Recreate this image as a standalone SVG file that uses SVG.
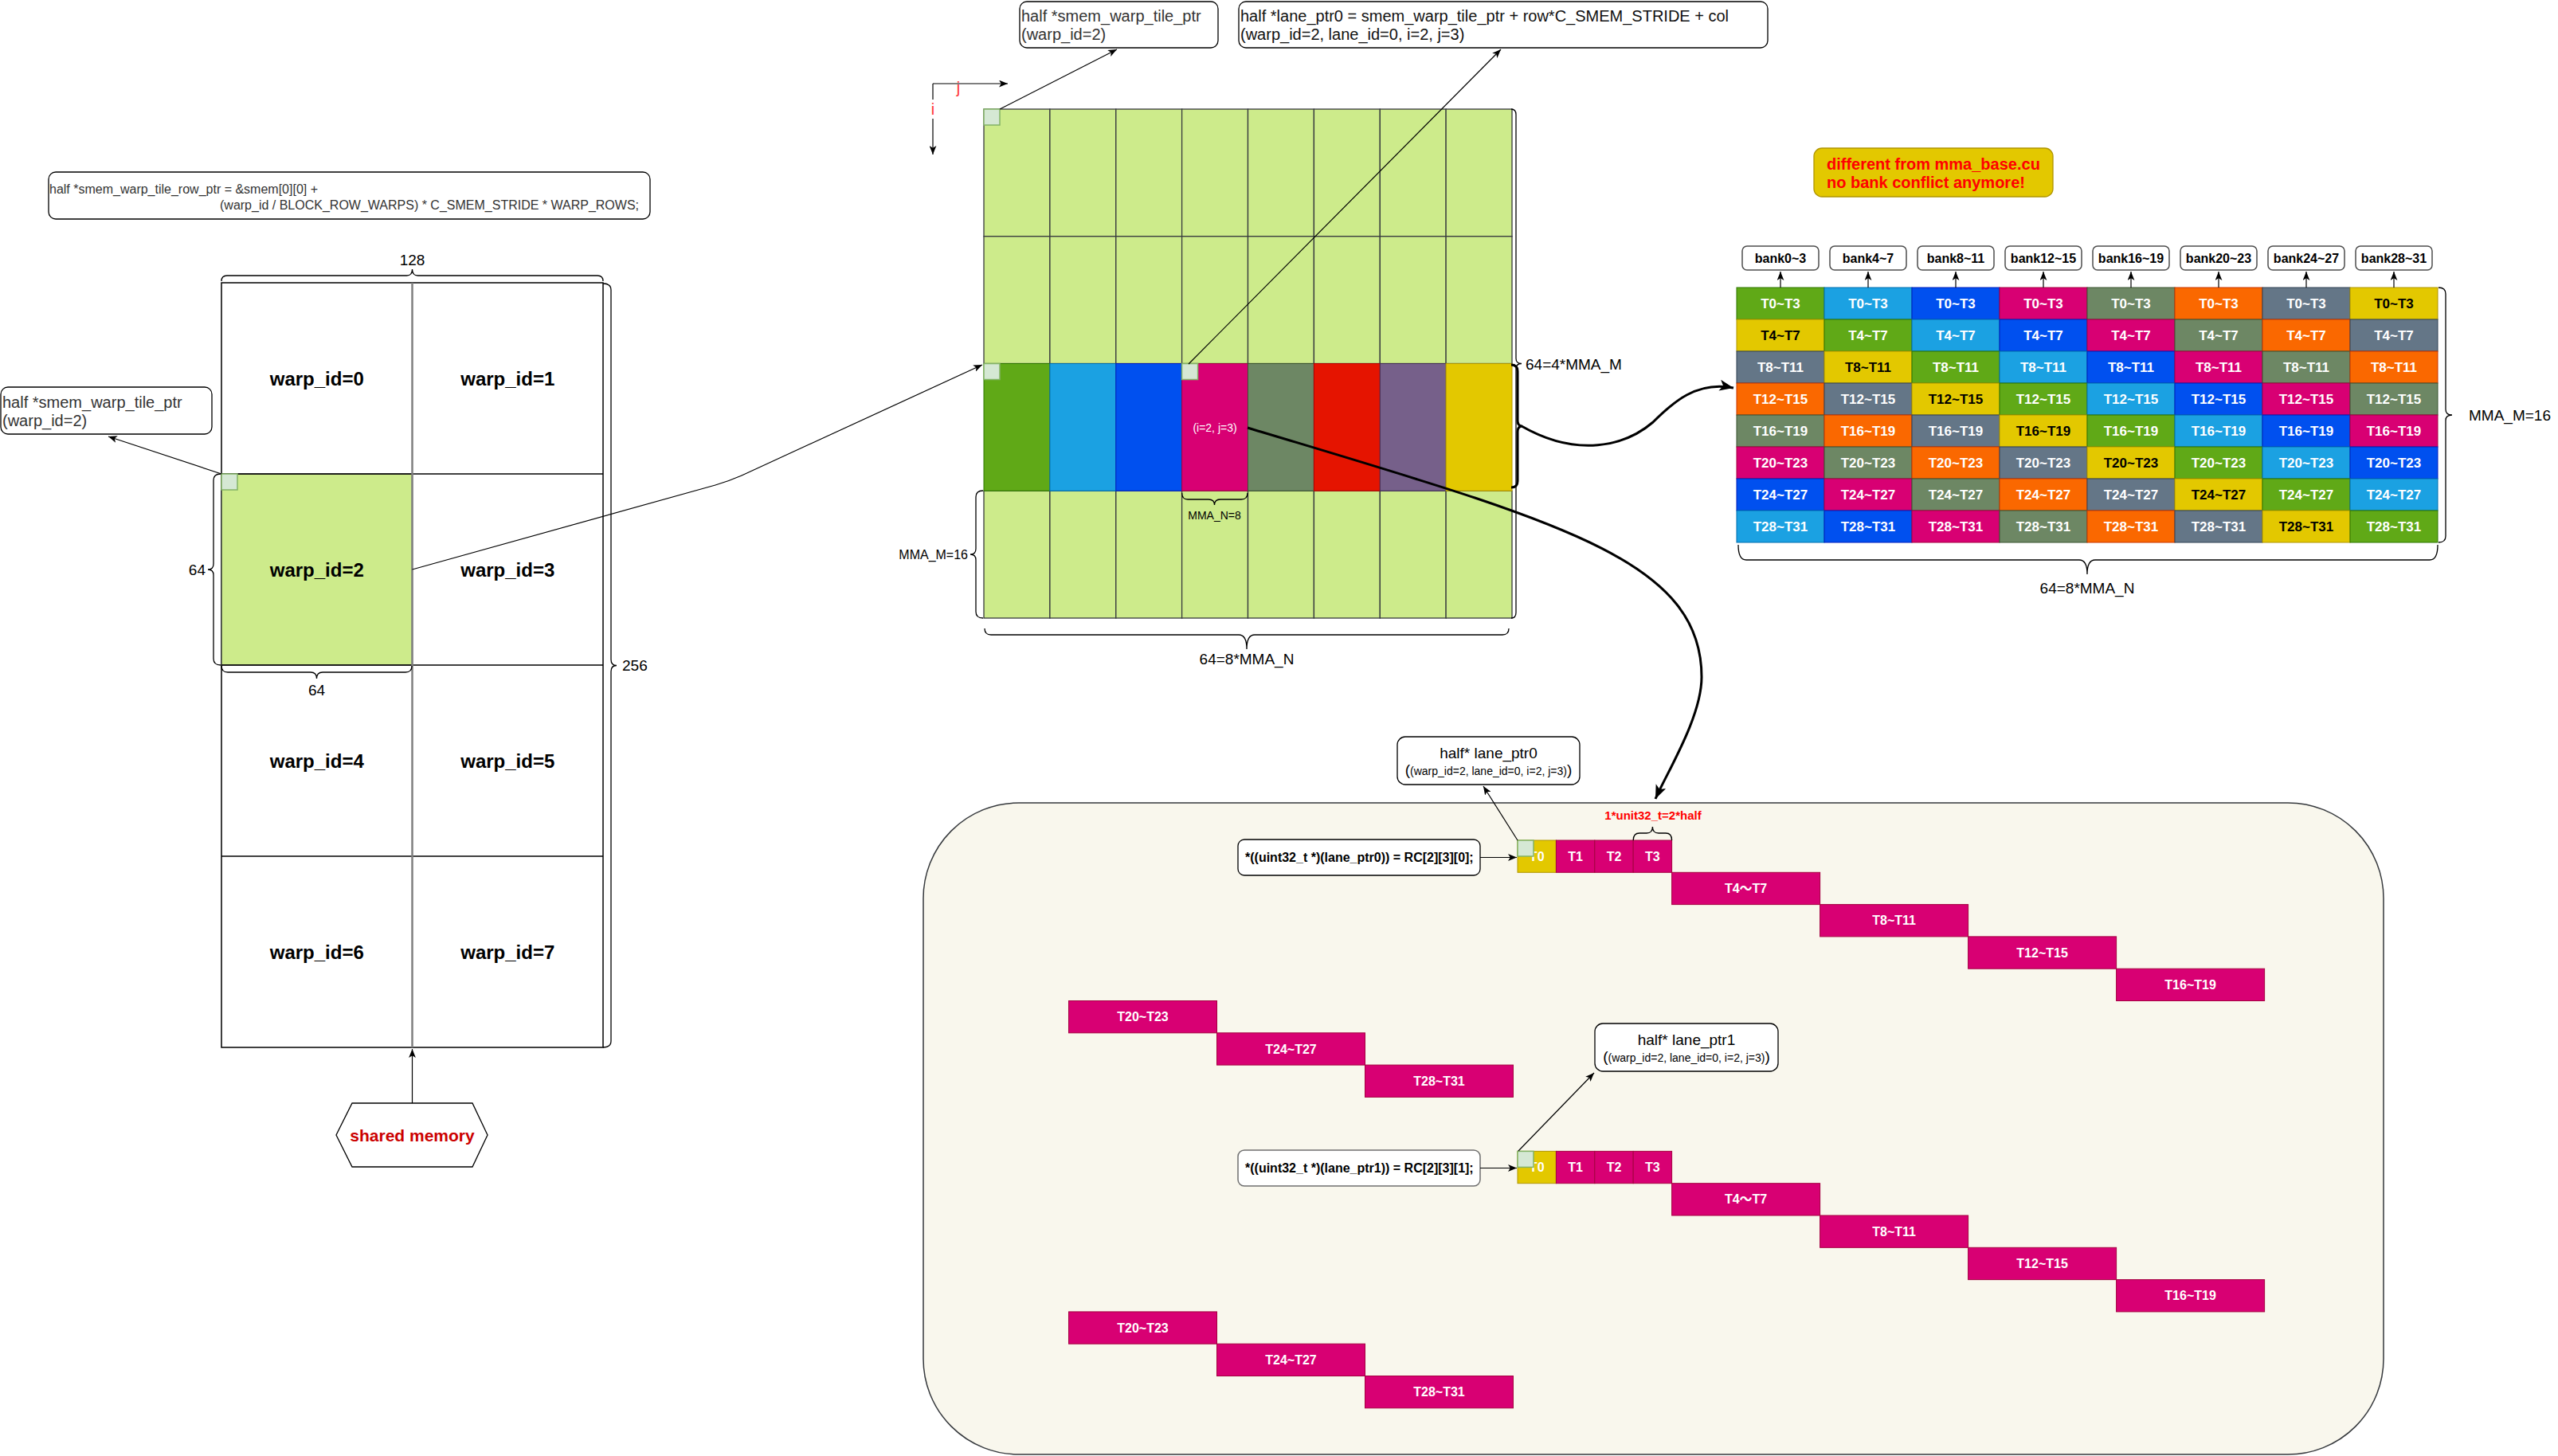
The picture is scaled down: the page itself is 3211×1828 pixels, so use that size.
<svg xmlns="http://www.w3.org/2000/svg" width="3211" height="1828" viewBox="0 0 3211 1828">
<style>
text{font-family:"Liberation Sans",Arial,"Noto Sans CJK SC",sans-serif}
.c{text-anchor:middle;dominant-baseline:central}
.m{dominant-baseline:central}
.bx{fill:#fff;stroke:#000;stroke-width:1.3}
.g{fill:#cdeb8b;stroke:#36393d;stroke-width:1.3}
.sq{fill:#d5e8d4;stroke:#82b366;stroke-width:1.5}
.G{fill:#60a917;stroke:#2d7600}.LB{fill:#1ba1e2;stroke:#006eaf}.B{fill:#0050ef;stroke:#001dbc}.M{fill:#d80073;stroke:#a50040}.O{fill:#6d8764;stroke:#3a5431}.OR{fill:#fa6800;stroke:#c73500}.S{fill:#647687;stroke:#314354}.Y{fill:#e3c800;stroke:#b09500}.R{fill:#e51400;stroke:#b20000}.P{fill:#76608a;stroke:#432d57}
.ct{font-size:17px;font-weight:bold;fill:#fff;text-anchor:middle;dominant-baseline:central}
.k{fill:#000}
.lt{font-size:16px;font-weight:bold;fill:#fff;text-anchor:middle;dominant-baseline:central}
.hd{fill:#fff;stroke:#4d4d4d;stroke-width:1.5}
.hdt{font-size:16px;font-weight:bold;text-anchor:middle;dominant-baseline:central}
.wl{font-size:24px;font-weight:bold;text-anchor:middle;dominant-baseline:central}
.dim{font-size:19px;fill:#000}
.br{fill:none;stroke:#000;stroke-width:1.3}
.ln{fill:none;stroke:#000;stroke-width:1.2}
.th{fill:none;stroke:#000;stroke-width:3}
</style>
<defs>
<marker id="ar" viewBox="0 0 10 8" refX="10" refY="4" markerWidth="11" markerHeight="9" markerUnits="userSpaceOnUse" orient="auto"><path d="M0,0 L10,4 L0,8 L2.5,4 z" fill="#000"/></marker>
<marker id="ak" viewBox="0 0 10 8" refX="10" refY="4" markerWidth="18" markerHeight="14" markerUnits="userSpaceOnUse" orient="auto"><path d="M0,0 L10,4 L0,8 L2.5,4 z" fill="#000"/></marker>
</defs>
<rect width="3211" height="1828" fill="#fff"/>

<!-- top-left code box -->
<g id="row-ptr-code">
<rect x="61" y="216" width="755" height="59" rx="9" class="bx"/>
<text x="62" y="237" class="m" font-size="16" fill="#333">half *smem_warp_tile_row_ptr = &amp;smem[0][0] +</text>
<text x="276" y="257" class="m" font-size="16" fill="#333">(warp_id / BLOCK_ROW_WARPS) * C_SMEM_STRIDE * WARP_ROWS;</text>
</g>

<!-- left pointer box -->
<g id="left-ptr-box">
<rect x="1" y="486" width="265" height="59" rx="9" class="bx"/>
<text x="3" y="505" class="m" font-size="20" fill="#333">half *smem_warp_tile_ptr</text>
<text x="3" y="528" class="m" font-size="20" fill="#333">(warp_id=2)</text>
</g>

<!-- warp grid -->
<g id="warp-grid">
<rect x="278" y="355" width="479" height="960" fill="#fff" stroke="#000" stroke-width="1.5"/>
<rect x="278" y="595" width="239.5" height="240" class="g"/>
<line x1="278" y1="595" x2="757" y2="595" stroke="#000" stroke-width="1.5"/>
<line x1="278" y1="835" x2="757" y2="835" stroke="#000" stroke-width="1.5"/>
<line x1="278" y1="1075" x2="757" y2="1075" stroke="#000" stroke-width="1.5"/>
<line x1="517.5" y1="355" x2="517.5" y2="1315" stroke="#7f7f7f" stroke-width="2.5"/>
<rect x="278" y="595" width="20" height="20" class="sq"/>
</g>
<g id="warp0"><text x="397.75" y="475" class="wl">warp_id=0</text></g>
<g id="warp1"><text x="637.25" y="475" class="wl">warp_id=1</text></g>
<g id="warp2"><text x="397.75" y="715" class="wl">warp_id=2</text></g>
<g id="warp3"><text x="637.25" y="715" class="wl">warp_id=3</text></g>
<g id="warp4"><text x="397.75" y="955" class="wl">warp_id=4</text></g>
<g id="warp5"><text x="637.25" y="955" class="wl">warp_id=5</text></g>
<g id="warp6"><text x="397.75" y="1195" class="wl">warp_id=6</text></g>
<g id="warp7"><text x="637.25" y="1195" class="wl">warp_id=7</text></g>

<!-- warp grid braces -->
<g id="warp-braces">
<path class="br" d="M278,353 Q278,346 285,346 L510.5,346 Q517.5,346 517.5,338 Q517.5,346 524.5,346 L750,346 Q757,346 757,353"/>
<text x="517.5" y="326" class="c dim">128</text>
<path class="br" d="M757,356 Q767,356 767,364 L767,828 Q767,835.5 774,835.5 Q767,835.5 767,843 L767,1307 Q767,1315 757,1315"/>
<text x="781" y="835.5" class="m dim">256</text>
<path class="br" d="M277,595 Q268,595 268,603 L268,708 Q268,715 261,715 Q268,715 268,722 L268,827 Q268,835 277,835"/>
<text x="258" y="715" class="m dim" text-anchor="end">64</text>
<path class="br" d="M278,836 Q278,844 286,844 L390,844 Q397.5,844 397.5,852 Q397.5,844 405,844 L509,844 Q517,844 517,836"/>
<text x="397.5" y="866" class="c dim">64</text>
</g>

<!-- shared memory -->
<g id="shared-memory">
<polygon points="442,1385 593,1385 612,1425 593,1465 442,1465 422,1425" fill="#fff" stroke="#000" stroke-width="1.3"/>
<text x="517.5" y="1425" class="c" font-size="21" font-weight="bold" fill="#cc0000">shared memory</text>
</g>

<!-- top pointer boxes -->
<g id="tile-ptr-box">
<rect x="1280" y="2" width="249" height="58" rx="9" class="bx"/>
<text x="1282" y="20" class="m" font-size="20" fill="#333">half *smem_warp_tile_ptr</text>
<text x="1282" y="43" class="m" font-size="20" fill="#333">(warp_id=2)</text>
</g>
<g id="lane-ptr0-formula">
<rect x="1555" y="2" width="664" height="58" rx="9" class="bx"/>
<text x="1557" y="20" class="m" font-size="20" fill="#111">half *lane_ptr0 = smem_warp_tile_ptr + row*C_SMEM_STRIDE + col</text>
<text x="1557" y="43" class="m" font-size="20" fill="#111">(warp_id=2, lane_id=0, i=2, j=3)</text>
</g>

<!-- warp tile grid (64x64) -->
<g id="warp-tile">
<rect x="1235" y="137" width="82.9" height="159.75" class="g"/><rect x="1317.9" y="137" width="82.9" height="159.75" class="g"/><rect x="1400.8" y="137" width="82.9" height="159.75" class="g"/><rect x="1483.6" y="137" width="82.9" height="159.75" class="g"/><rect x="1566.5" y="137" width="82.9" height="159.75" class="g"/><rect x="1649.4" y="137" width="82.9" height="159.75" class="g"/><rect x="1732.3" y="137" width="82.9" height="159.75" class="g"/><rect x="1815.1" y="137" width="82.9" height="159.75" class="g"/>
<rect x="1235" y="296.75" width="82.9" height="159.75" class="g"/><rect x="1317.9" y="296.75" width="82.9" height="159.75" class="g"/><rect x="1400.8" y="296.75" width="82.9" height="159.75" class="g"/><rect x="1483.6" y="296.75" width="82.9" height="159.75" class="g"/><rect x="1566.5" y="296.75" width="82.9" height="159.75" class="g"/><rect x="1649.4" y="296.75" width="82.9" height="159.75" class="g"/><rect x="1732.3" y="296.75" width="82.9" height="159.75" class="g"/><rect x="1815.1" y="296.75" width="82.9" height="159.75" class="g"/>
<rect x="1235" y="616.25" width="82.9" height="159.75" class="g"/><rect x="1317.9" y="616.25" width="82.9" height="159.75" class="g"/><rect x="1400.8" y="616.25" width="82.9" height="159.75" class="g"/><rect x="1483.6" y="616.25" width="82.9" height="159.75" class="g"/><rect x="1566.5" y="616.25" width="82.9" height="159.75" class="g"/><rect x="1649.4" y="616.25" width="82.9" height="159.75" class="g"/><rect x="1732.3" y="616.25" width="82.9" height="159.75" class="g"/><rect x="1815.1" y="616.25" width="82.9" height="159.75" class="g"/>
</g>
<g id="mma-row">
<rect x="1235" y="456.5" width="82.9" height="159.75" class="G"/>
<rect x="1317.9" y="456.5" width="82.9" height="159.75" class="LB"/>
<rect x="1400.8" y="456.5" width="82.9" height="159.75" class="B"/>
<rect x="1483.6" y="456.5" width="82.9" height="159.75" class="M"/>
<rect x="1566.5" y="456.5" width="82.9" height="159.75" class="O"/>
<rect x="1649.4" y="456.5" width="82.9" height="159.75" class="R"/>
<rect x="1732.3" y="456.5" width="82.9" height="159.75" class="P"/>
<rect x="1815.1" y="456.5" width="82.9" height="159.75" class="Y"/>
<text x="1525" y="537" class="c" font-size="14" fill="#fff">(i=2, j=3)</text>
</g>
<g id="tile-markers">
<rect x="1235" y="137" width="20" height="20" class="sq"/>
<rect x="1235" y="456.5" width="20" height="20" class="sq"/>
<rect x="1483.6" y="456.5" width="20" height="20" class="sq"/>
</g>

<!-- tile braces -->
<g id="tile-braces">
<path class="br" d="M1897,137 Q1903,137 1903,144 L1903,450 Q1903,456.5 1910,456.5 Q1903,456.5 1903,463 L1903,769 Q1903,776 1897,776"/>
<text x="1915" y="457" class="m dim">64=4*MMA_M</text>
<path class="th" d="M1897,458 Q1905,458 1905,466 L1905,528 Q1905,535 1911,535 Q1905,535 1905,542 L1905,604 Q1905,612 1897,612"/>
<path class="br" d="M1234,616 Q1225,616 1225,624 L1225,689 Q1225,696 1218,696 Q1225,696 1225,703 L1225,768 Q1225,776 1234,776"/>
<text x="1215" y="696" class="m" font-size="16" text-anchor="end">MMA_M=16</text>
<path class="br" d="M1483.6,619 Q1483.6,627 1491,627 L1517,627 Q1524.5,627 1524.5,634 Q1524.5,627 1532,627 L1558,627 Q1566,627 1566,619"/>
<text x="1524.5" y="647" class="c" font-size="14">MMA_N=8</text>
<path class="br" d="M1236,789 Q1236,797 1244,797 L1555,797 Q1565,797 1565,815 Q1565,797 1575,797 L1886,797 Q1894,797 1894,789"/>
<text x="1565" y="827" class="c dim">64=8*MMA_N</text>
</g>

<!-- note -->
<g id="note">
<rect x="2277" y="186" width="300" height="61" rx="10" fill="#e3c800" stroke="#b09500" stroke-width="1.3"/>
<text x="2293" y="206" class="m" font-size="20" font-weight="bold" fill="#ff0000">different from mma_base.cu</text>
<text x="2293" y="229" class="m" font-size="20" font-weight="bold" fill="#ff0000">no bank conflict anymore!</text>
</g>

<!-- bank headers -->
<g id="bank0"><rect x="2187" y="309" width="96" height="30" rx="6" class="hd"/><text x="2235" y="324" class="hdt">bank0~3</text></g>
<g id="bank4"><rect x="2297" y="309" width="96" height="30" rx="6" class="hd"/><text x="2345" y="324" class="hdt">bank4~7</text></g>
<g id="bank8"><rect x="2407" y="309" width="96" height="30" rx="6" class="hd"/><text x="2455" y="324" class="hdt">bank8~11</text></g>
<g id="bank12"><rect x="2517" y="309" width="96" height="30" rx="6" class="hd"/><text x="2565" y="324" class="hdt">bank12~15</text></g>
<g id="bank16"><rect x="2627" y="309" width="96" height="30" rx="6" class="hd"/><text x="2675" y="324" class="hdt">bank16~19</text></g>
<g id="bank20"><rect x="2737" y="309" width="96" height="30" rx="6" class="hd"/><text x="2785" y="324" class="hdt">bank20~23</text></g>
<g id="bank24"><rect x="2847" y="309" width="96" height="30" rx="6" class="hd"/><text x="2895" y="324" class="hdt">bank24~27</text></g>
<g id="bank28"><rect x="2957" y="309" width="96" height="30" rx="6" class="hd"/><text x="3005" y="324" class="hdt">bank28~31</text></g>

<!-- bank table -->
<g id="bank-table">
<g id="r0"><rect x="2180" y="361" width="110" height="40" class="G"/><rect x="2290" y="361" width="110" height="40" class="LB"/><rect x="2400" y="361" width="110" height="40" class="B"/><rect x="2510" y="361" width="110" height="40" class="M"/><rect x="2620" y="361" width="110" height="40" class="O"/><rect x="2730" y="361" width="110" height="40" class="OR"/><rect x="2840" y="361" width="110" height="40" class="S"/><rect x="2950" y="361" width="110" height="40" class="Y"/>
<text x="2235" y="381" class="ct">T0~T3</text><text x="2345" y="381" class="ct">T0~T3</text><text x="2455" y="381" class="ct">T0~T3</text><text x="2565" y="381" class="ct">T0~T3</text><text x="2675" y="381" class="ct">T0~T3</text><text x="2785" y="381" class="ct">T0~T3</text><text x="2895" y="381" class="ct">T0~T3</text><text x="3005" y="381" class="ct k">T0~T3</text></g>
<g id="r1"><rect x="2180" y="401" width="110" height="40" class="Y"/><rect x="2290" y="401" width="110" height="40" class="G"/><rect x="2400" y="401" width="110" height="40" class="LB"/><rect x="2510" y="401" width="110" height="40" class="B"/><rect x="2620" y="401" width="110" height="40" class="M"/><rect x="2730" y="401" width="110" height="40" class="O"/><rect x="2840" y="401" width="110" height="40" class="OR"/><rect x="2950" y="401" width="110" height="40" class="S"/>
<text x="2235" y="421" class="ct k">T4~T7</text><text x="2345" y="421" class="ct">T4~T7</text><text x="2455" y="421" class="ct">T4~T7</text><text x="2565" y="421" class="ct">T4~T7</text><text x="2675" y="421" class="ct">T4~T7</text><text x="2785" y="421" class="ct">T4~T7</text><text x="2895" y="421" class="ct">T4~T7</text><text x="3005" y="421" class="ct">T4~T7</text></g>
<g id="r2"><rect x="2180" y="441" width="110" height="40" class="S"/><rect x="2290" y="441" width="110" height="40" class="Y"/><rect x="2400" y="441" width="110" height="40" class="G"/><rect x="2510" y="441" width="110" height="40" class="LB"/><rect x="2620" y="441" width="110" height="40" class="B"/><rect x="2730" y="441" width="110" height="40" class="M"/><rect x="2840" y="441" width="110" height="40" class="O"/><rect x="2950" y="441" width="110" height="40" class="OR"/>
<text x="2235" y="461" class="ct">T8~T11</text><text x="2345" y="461" class="ct k">T8~T11</text><text x="2455" y="461" class="ct">T8~T11</text><text x="2565" y="461" class="ct">T8~T11</text><text x="2675" y="461" class="ct">T8~T11</text><text x="2785" y="461" class="ct">T8~T11</text><text x="2895" y="461" class="ct">T8~T11</text><text x="3005" y="461" class="ct">T8~T11</text></g>
<g id="r3"><rect x="2180" y="481" width="110" height="40" class="OR"/><rect x="2290" y="481" width="110" height="40" class="S"/><rect x="2400" y="481" width="110" height="40" class="Y"/><rect x="2510" y="481" width="110" height="40" class="G"/><rect x="2620" y="481" width="110" height="40" class="LB"/><rect x="2730" y="481" width="110" height="40" class="B"/><rect x="2840" y="481" width="110" height="40" class="M"/><rect x="2950" y="481" width="110" height="40" class="O"/>
<text x="2235" y="501" class="ct">T12~T15</text><text x="2345" y="501" class="ct">T12~T15</text><text x="2455" y="501" class="ct k">T12~T15</text><text x="2565" y="501" class="ct">T12~T15</text><text x="2675" y="501" class="ct">T12~T15</text><text x="2785" y="501" class="ct">T12~T15</text><text x="2895" y="501" class="ct">T12~T15</text><text x="3005" y="501" class="ct">T12~T15</text></g>
<g id="r4"><rect x="2180" y="521" width="110" height="40" class="O"/><rect x="2290" y="521" width="110" height="40" class="OR"/><rect x="2400" y="521" width="110" height="40" class="S"/><rect x="2510" y="521" width="110" height="40" class="Y"/><rect x="2620" y="521" width="110" height="40" class="G"/><rect x="2730" y="521" width="110" height="40" class="LB"/><rect x="2840" y="521" width="110" height="40" class="B"/><rect x="2950" y="521" width="110" height="40" class="M"/>
<text x="2235" y="541" class="ct">T16~T19</text><text x="2345" y="541" class="ct">T16~T19</text><text x="2455" y="541" class="ct">T16~T19</text><text x="2565" y="541" class="ct k">T16~T19</text><text x="2675" y="541" class="ct">T16~T19</text><text x="2785" y="541" class="ct">T16~T19</text><text x="2895" y="541" class="ct">T16~T19</text><text x="3005" y="541" class="ct">T16~T19</text></g>
<g id="r5"><rect x="2180" y="561" width="110" height="40" class="M"/><rect x="2290" y="561" width="110" height="40" class="O"/><rect x="2400" y="561" width="110" height="40" class="OR"/><rect x="2510" y="561" width="110" height="40" class="S"/><rect x="2620" y="561" width="110" height="40" class="Y"/><rect x="2730" y="561" width="110" height="40" class="G"/><rect x="2840" y="561" width="110" height="40" class="LB"/><rect x="2950" y="561" width="110" height="40" class="B"/>
<text x="2235" y="581" class="ct">T20~T23</text><text x="2345" y="581" class="ct">T20~T23</text><text x="2455" y="581" class="ct">T20~T23</text><text x="2565" y="581" class="ct">T20~T23</text><text x="2675" y="581" class="ct k">T20~T23</text><text x="2785" y="581" class="ct">T20~T23</text><text x="2895" y="581" class="ct">T20~T23</text><text x="3005" y="581" class="ct">T20~T23</text></g>
<g id="r6"><rect x="2180" y="601" width="110" height="40" class="B"/><rect x="2290" y="601" width="110" height="40" class="M"/><rect x="2400" y="601" width="110" height="40" class="O"/><rect x="2510" y="601" width="110" height="40" class="OR"/><rect x="2620" y="601" width="110" height="40" class="S"/><rect x="2730" y="601" width="110" height="40" class="Y"/><rect x="2840" y="601" width="110" height="40" class="G"/><rect x="2950" y="601" width="110" height="40" class="LB"/>
<text x="2235" y="621" class="ct">T24~T27</text><text x="2345" y="621" class="ct">T24~T27</text><text x="2455" y="621" class="ct">T24~T27</text><text x="2565" y="621" class="ct">T24~T27</text><text x="2675" y="621" class="ct">T24~T27</text><text x="2785" y="621" class="ct k">T24~T27</text><text x="2895" y="621" class="ct">T24~T27</text><text x="3005" y="621" class="ct">T24~T27</text></g>
<g id="r7"><rect x="2180" y="641" width="110" height="40" class="LB"/><rect x="2290" y="641" width="110" height="40" class="B"/><rect x="2400" y="641" width="110" height="40" class="M"/><rect x="2510" y="641" width="110" height="40" class="O"/><rect x="2620" y="641" width="110" height="40" class="OR"/><rect x="2730" y="641" width="110" height="40" class="S"/><rect x="2840" y="641" width="110" height="40" class="Y"/><rect x="2950" y="641" width="110" height="40" class="G"/>
<text x="2235" y="661" class="ct">T28~T31</text><text x="2345" y="661" class="ct">T28~T31</text><text x="2455" y="661" class="ct">T28~T31</text><text x="2565" y="661" class="ct">T28~T31</text><text x="2675" y="661" class="ct">T28~T31</text><text x="2785" y="661" class="ct">T28~T31</text><text x="2895" y="661" class="ct k">T28~T31</text><text x="3005" y="661" class="ct">T28~T31</text></g>
</g>
<g id="bank-braces">
<path class="br" d="M3061,361 Q3070,361 3070,369 L3070,514 Q3070,521 3078,521 Q3070,521 3070,528 L3070,673 Q3070,681 3061,681"/>
<text x="3099" y="521" class="m dim">MMA_M=16</text>
<path class="br" d="M2182,684 Q2182,703 2192,703 L2610,703 Q2620,703 2620,721 Q2620,703 2630,703 L3050,703 Q3060,703 3060,684"/>
<text x="2620" y="738" class="c dim">64=8*MMA_N</text>
</g>

<!-- register container -->
<g id="container">
<rect x="1159" y="1008" width="1833" height="818" rx="120" fill="#f9f7ed" stroke="#36393d" stroke-width="1.5"/>
</g>

<g id="lane-ptr0-box">
<rect x="1754" y="925" width="229" height="60" rx="10" class="bx"/>
<text x="1868.5" y="945" class="c" font-size="19">half* lane_ptr0</text>
<text x="1868.5" y="973" text-anchor="middle"><tspan font-size="19">(</tspan><tspan font-size="14">(warp_id=2, lane_id=0, i=2, j=3)</tspan><tspan font-size="19">)</tspan></text>
</g>
<g id="lane-ptr1-box">
<rect x="2002" y="1285" width="230" height="60" rx="10" class="bx"/>
<text x="2117" y="1305" class="c" font-size="19">half* lane_ptr1</text>
<text x="2117" y="1333" text-anchor="middle"><tspan font-size="19">(</tspan><tspan font-size="14">(warp_id=2, lane_id=0, i=2, j=3)</tspan><tspan font-size="19">)</tspan></text>
</g>

<g id="store0-code">
<rect x="1554" y="1054" width="304" height="45" rx="8" class="bx"/>
<text x="1563" y="1076.5" class="m" font-size="16" font-weight="bold">*((uint32_t *)(lane_ptr0)) = RC[2][3][0];</text>
</g>
<g id="store1-code">
<rect x="1554" y="1444" width="304" height="45" rx="8" fill="#fff" stroke="#6f6f6f" stroke-width="1.5"/>
<text x="1563" y="1466.5" class="m" font-size="16" font-weight="bold">*((uint32_t *)(lane_ptr1)) = RC[2][3][1];</text>
</g>

<!-- lane row 0 -->
<g id="lanes0">
<rect x="1905" y="1055" width="48.4" height="40.3" class="Y"/><text x="1929.2" y="1075.2" class="lt k">T0</text>
<rect x="1953.4" y="1055" width="48.4" height="40.3" class="M"/><text x="1977.6" y="1075.2" class="lt">T1</text>
<rect x="2001.8" y="1055" width="48.4" height="40.3" class="M"/><text x="2026" y="1075.2" class="lt">T2</text>
<rect x="2050.2" y="1055" width="48.4" height="40.3" class="M"/><text x="2074.4" y="1075.2" class="lt">T3</text>
<rect x="1905" y="1055" width="20" height="20" class="sq"/>
<rect x="2098.6" y="1095.3" width="186" height="40.3" class="M"/><text x="2191.6" y="1115.5" class="lt">T4～T7</text>
<rect x="2284.6" y="1135.6" width="186" height="40.3" class="M"/><text x="2377.6" y="1155.8" class="lt">T8~T11</text>
<rect x="2470.6" y="1175.9" width="186" height="40.3" class="M"/><text x="2563.6" y="1196" class="lt">T12~T15</text>
<rect x="2656.6" y="1216.2" width="186" height="40.3" class="M"/><text x="2749.6" y="1236.4" class="lt">T16~T19</text>
<rect x="1341.5" y="1256.5" width="186" height="40.3" class="M"/><text x="1434.5" y="1276.6" class="lt">T20~T23</text>
<rect x="1527.5" y="1296.8" width="186" height="40.3" class="M"/><text x="1620.5" y="1317" class="lt">T24~T27</text>
<rect x="1713.5" y="1337.1" width="186" height="40.3" class="M"/><text x="1806.5" y="1357.2" class="lt">T28~T31</text>
<path class="br" d="M2050.2,1055 Q2050.2,1046 2058,1046 L2067,1046 Q2074.4,1046 2074.4,1038 Q2074.4,1046 2082,1046 L2091,1046 Q2098.6,1046 2098.6,1055"/>
<text x="2075" y="1023" class="c" font-size="15" font-weight="bold" fill="#ff0000">1*unit32_t=2*half</text>
</g>

<!-- lane row 1 -->
<g id="lanes1">
<rect x="1905" y="1445.4" width="48.4" height="40.3" class="Y"/><text x="1929.2" y="1465.6" class="lt k">T0</text>
<rect x="1953.4" y="1445.4" width="48.4" height="40.3" class="M"/><text x="1977.6" y="1465.6" class="lt">T1</text>
<rect x="2001.8" y="1445.4" width="48.4" height="40.3" class="M"/><text x="2026" y="1465.6" class="lt">T2</text>
<rect x="2050.2" y="1445.4" width="48.4" height="40.3" class="M"/><text x="2074.4" y="1465.6" class="lt">T3</text>
<rect x="1905" y="1445.4" width="20" height="20" class="sq"/>
<rect x="2098.6" y="1485.7" width="186" height="40.3" class="M"/><text x="2191.6" y="1505.9" class="lt">T4～T7</text>
<rect x="2284.6" y="1526" width="186" height="40.3" class="M"/><text x="2377.6" y="1546.2" class="lt">T8~T11</text>
<rect x="2470.6" y="1566.3" width="186" height="40.3" class="M"/><text x="2563.6" y="1586.4" class="lt">T12~T15</text>
<rect x="2656.6" y="1606.6" width="186" height="40.3" class="M"/><text x="2749.6" y="1626.8" class="lt">T16~T19</text>
<rect x="1341.5" y="1646.9" width="186" height="40.3" class="M"/><text x="1434.5" y="1667" class="lt">T20~T23</text>
<rect x="1527.5" y="1687.2" width="186" height="40.3" class="M"/><text x="1620.5" y="1707.4" class="lt">T24~T27</text>
<rect x="1713.5" y="1727.5" width="186" height="40.3" class="M"/><text x="1806.5" y="1747.6" class="lt">T28~T31</text>
</g>

<!-- connectors -->
<g id="connectors">
<path class="ln" d="M278,595 L136,548" marker-end="url(#ar)"/>
<path class="ln" d="M517.5,715 L898,609 Q915,604 931,597 L1233,458" marker-end="url(#ar)"/>
<path class="ln" d="M517.5,1385 L517.5,1317" marker-end="url(#ar)"/>
<path class="ln" d="M1255,137 L1402,62" marker-end="url(#ar)"/>
<path class="ln" d="M1492,457 L1884,62" marker-end="url(#ar)"/>
<path class="ln" d="M1171,105 L1265,105" marker-end="url(#ar)"/>
<path class="ln" d="M1171,105 L1171,194" marker-end="url(#ar)"/>
<rect x="1165" y="125" width="12" height="24" fill="#fff"/>
<text x="1171" y="137" class="c" font-size="20" fill="#ff3333">i</text>
<text x="1203" y="110" class="c" font-size="20" fill="#ff3333">j</text>
<path class="th" d="M1910,535 C1980,575 2040,560 2075,530 C2100,505 2130,478 2176,487" marker-end="url(#ak)"/>
<path class="th" d="M1566,537 C1950,653 2136,700 2136,850 C2136,900 2093,969 2078,1003" marker-end="url(#ak)"/>
<path class="ln" d="M2235,361 L2235,341" marker-end="url(#ar)"/>
<path class="ln" d="M2345,361 L2345,341" marker-end="url(#ar)"/>
<path class="ln" d="M2455,361 L2455,341" marker-end="url(#ar)"/>
<path class="ln" d="M2565,361 L2565,341" marker-end="url(#ar)"/>
<path class="ln" d="M2675,361 L2675,341" marker-end="url(#ar)"/>
<path class="ln" d="M2785,361 L2785,341" marker-end="url(#ar)"/>
<path class="ln" d="M2895,361 L2895,341" marker-end="url(#ar)"/>
<path class="ln" d="M3005,361 L3005,341" marker-end="url(#ar)"/>
<path class="ln" d="M1858,1076.5 L1904,1076.5" marker-end="url(#ar)"/>
<path class="ln" d="M1858,1466.5 L1904,1466.5" marker-end="url(#ar)"/>
<path class="ln" d="M1905,1055 L1862,987" marker-end="url(#ar)"/>
<path class="ln" d="M1906,1445 L2001,1347" marker-end="url(#ar)"/>
</g>
</svg>
